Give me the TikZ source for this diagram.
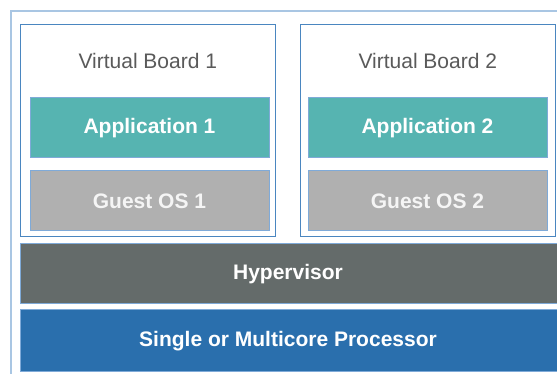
\documentclass[tikz,border=0pt]{standalone}
\usepackage{fontspec}
\setmainfont{Liberation Sans}
\definecolor{frameblue}{HTML}{A9C6E3}
\definecolor{boardblue}{HTML}{4A86C0}
\definecolor{edgeblue}{HTML}{7FAAD8}
\definecolor{teal}{HTML}{56B4B1}
\definecolor{guestgray}{HTML}{B0B0B0}
\definecolor{hypgray}{HTML}{646B6A}
\definecolor{procblue}{HTML}{2A6FAD}
\definecolor{titlegray}{HTML}{5A5A5A}
\begin{document}
\begin{tikzpicture}[x=1pt,y=-1pt,
  layer/.style={draw=edgeblue,line width=0.8pt,text=white,font=\fontsize{21}{25}\selectfont\bfseries},
  board/.style={draw=boardblue,line width=1pt,fill=white},
  title/.style={text=titlegray,font=\fontsize{21}{25}\selectfont}]
\useasboundingbox (0,0) rectangle (557,374);
\fill[white] (0,0) rectangle (557,374);
\draw[frameblue,line width=1.2pt] (11,374) -- (11,11) -- (557,11);
% boards
\draw[board] (20.7,24.7) rectangle (275,236.7);
\draw[board] (300.7,24.7) rectangle (555,236.7);
\node[title] (vb1) at (147.8,61) {Virtual Board 1};
\node[title] (vb2) at (427.8,61) {Virtual Board 2};
% applications
\filldraw[layer,fill=teal] (30,97) rectangle (269,157);
\node[layer,draw=none] (app1) at (149.5,128) {Application 1};
\filldraw[layer,fill=teal] (308,97) rectangle (547,157);
\node[layer,draw=none] (app2) at (427.5,128) {Application 2};
% guest os
\filldraw[layer,fill=guestgray] (30,170) rectangle (269,230);
\node[layer,draw=none,text=white!96!black] (os1) at (149.5,201) {Guest OS 1};
\filldraw[layer,fill=guestgray] (308,170) rectangle (547,230);
\node[layer,draw=none,text=white!96!black] (os2) at (427.5,201) {Guest OS 2};
% hypervisor
\filldraw[layer,fill=hypgray] (20.7,243) rectangle (560,303);
\node[layer,draw=none] (hyp) at (288,274) {Hypervisor};
% processor
\filldraw[layer,fill=procblue] (20.7,309) rectangle (560,371);
\node[layer,draw=none] (proc) at (288,341) {Single or Multicore Processor};
\end{tikzpicture}
\end{document}
